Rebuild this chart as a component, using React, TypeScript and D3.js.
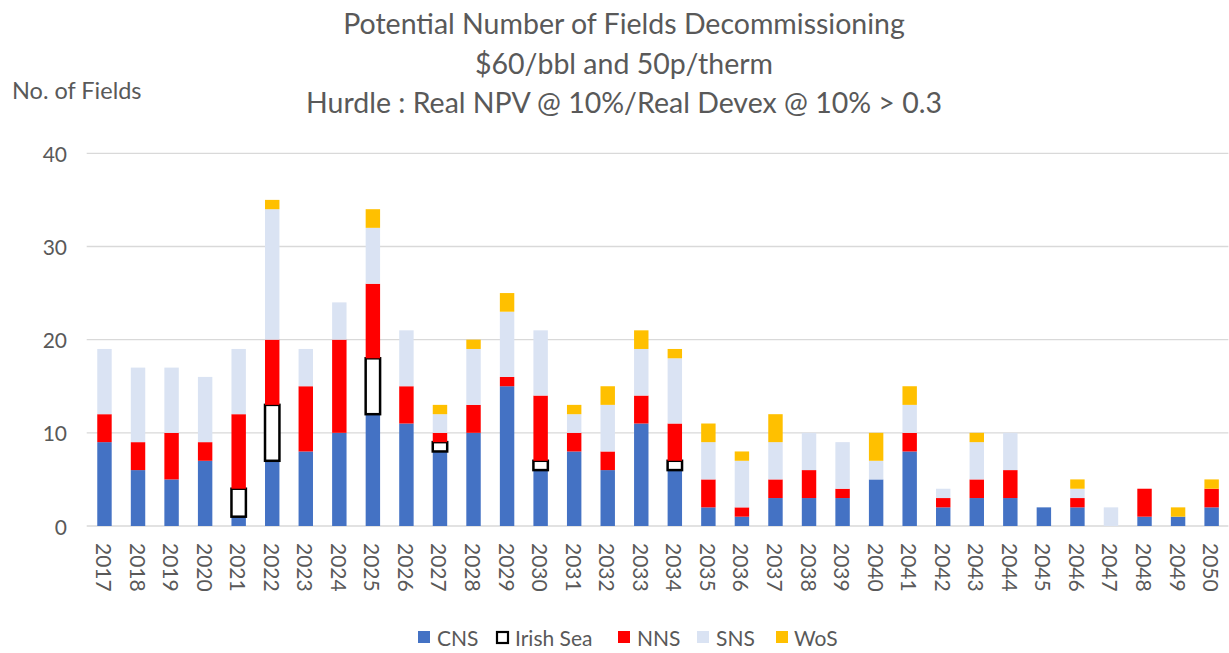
import React from "react";
import * as d3 from "d3";

const years = d3.range(2017, 2051).map(String);
const seriesNames = ["CNS", "Irish Sea", "NNS", "SNS", "WoS"];
const cns = [9,6,5,7,1,7,8,10,12,11,8,10,15,6,8,6,11,6,2,1,3,3,3,5,8,2,3,3,2,2,0,1,1,2];
const irishSea = [0,0,0,0,3,6,0,0,6,0,1,0,0,1,0,0,0,1,0,0,0,0,0,0,0,0,0,0,0,0,0,0,0,0];
const nns = [3,3,5,2,8,7,7,10,8,4,1,3,1,7,2,2,3,4,3,1,2,3,1,0,2,1,2,3,0,1,0,3,0,2];
const sns = [7,8,7,7,7,14,4,4,6,6,2,6,7,7,2,5,5,7,4,5,4,4,5,2,3,1,4,4,0,1,2,0,0,0];
const wos = [0,0,0,0,0,1,0,0,2,0,1,1,2,0,1,2,2,1,2,1,3,0,0,3,2,0,1,0,0,1,0,0,1,1];
const yTicks = [0, 10, 20, 30, 40];
const titleLines = [
  "Potential Number of Fields Decommissioning",
  "$60/bbl and 50p/therm",
  "Hurdle : Real NPV @ 10%/Real Devex @ 10% > 0.3",
];

const colors: Record<string, string> = {
  CNS: "#4472C4",
  "Irish Sea": "#FFFFFF",
  NNS: "#FF0000",
  SNS: "#DAE3F3",
  WoS: "#FFC000",
};

export default function App() {
  const W = 1229, H = 653;
  const left = 87.7, right = 1228.4, top = 153.3, bottom = 526;
  const font = "Lato, 'Open Sans', sans-serif";
  const textColor = "#595959";

  const rows = years.map((y, i) => ({
    year: y,
    CNS: cns[i],
    "Irish Sea": irishSea[i],
    NNS: nns[i],
    SNS: sns[i],
    WoS: wos[i],
  }));
  const stack = d3.stack<any>().keys(seriesNames)(rows);

  const x = d3.scaleBand().domain(years).range([left, right]).paddingInner(0.57).paddingOuter(0.285);
  const y = d3.scaleLinear().domain([0, 40]).range([bottom, top]);

  const legendItems = [
    { name: "CNS", sx: 418, tx: 437 },
    { name: "Irish Sea", sx: 496, tx: 515 },
    { name: "NNS", sx: 618, tx: 637 },
    { name: "SNS", sx: 697, tx: 716 },
    { name: "WoS", sx: 776, tx: 794 },
  ];

  return (
    <svg width={W} height={H} style={{ position: "absolute", left: 0, top: 0, background: "#fff" }} fontFamily={font}>
      {titleLines.map((t, i) => (
        <text key={i} x={624} y={23 + i * 39.5} textAnchor="middle" dominantBaseline="central" fontSize={28.5} fill={textColor}>
          {t}
        </text>
      ))}
      <text x={12} y={90} dominantBaseline="central" fontSize={23.5} fill={textColor}>No. of Fields</text>

      {yTicks.map((t) => (
        <g key={t}>
          <line x1={left - 1} x2={right} y1={y(t)} y2={y(t)} stroke="#D9D9D9" strokeWidth={1.3} />
          <text x={67} y={y(t)} textAnchor="end" dominantBaseline="central" fontSize={21} fill={textColor}>{t}</text>
        </g>
      ))}

      {stack.map((s) => (
        <g key={s.key}>
          {s.map((d: any, i: number) => {
            if (d[1] - d[0] <= 0) return null;
            const isIrish = s.key === "Irish Sea";
            return (
              <rect
                key={i}
                x={x(years[i])!}
                width={x.bandwidth()}
                y={y(d[1])}
                height={y(d[0]) - y(d[1])}
                fill={colors[s.key]}
                stroke={isIrish ? "#000" : "none"}
                strokeWidth={isIrish ? 2.5 : 0}
              />
            );
          })}
        </g>
      ))}

      {years.map((yr) => {
        const cx = x(yr)! + x.bandwidth() / 2;
        return (
          <text key={yr} transform={`translate(${cx},543) rotate(90)`} dominantBaseline="central" fontSize={21} fill={textColor}>
            {yr}
          </text>
        );
      })}

      {legendItems.map((l) => (
        <g key={l.name}>
          {l.name === "Irish Sea" ? (
            <rect x={l.sx + 1} y={632} width={11} height={11} fill="#fff" stroke="#000" strokeWidth={2.2} />
          ) : (
            <rect x={l.sx} y={631} width={12} height={12} fill={colors[l.name]} />
          )}
          <text x={l.tx} y={637} dominantBaseline="central" fontSize={21} fill={textColor}>{l.name}</text>
        </g>
      ))}
    </svg>
  );
}
